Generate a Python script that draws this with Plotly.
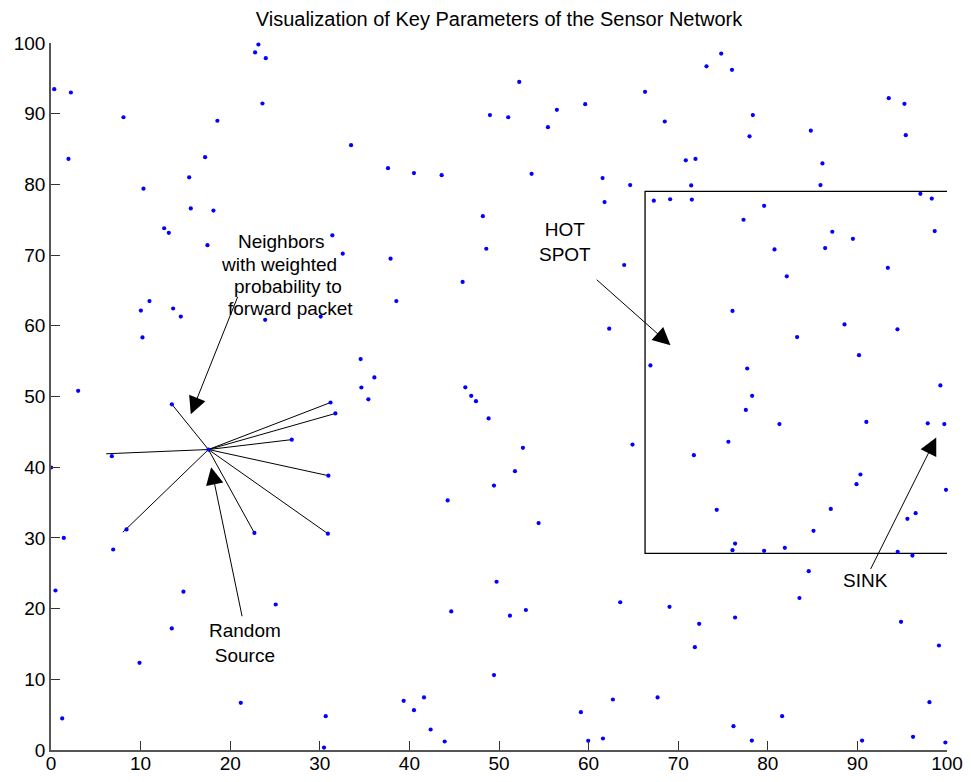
import plotly.graph_objects as go

# ---------------- data ----------------
node_x = [0.36, 2.22, 1.95, 8.09, 10.32, 12.63, 13.15, 15.42, 15.6, 17.2, 18.13, 17.46, 18.57,
          22.78, 23.15, 23.97, 23.6, 52.26, 66.3, 48.99, 51.03, 56.46, 59.62, 55.46, 33.49,
          37.61, 40.51, 43.6, 53.64, 61.56, 64.64, 61.78, 48.2, 48.58, 31.4, 32.56, 37.9, 63.97,
          73.16, 74.8, 76.0, 68.5, 78.33, 77.96, 70.85, 71.93, 71.45, 67.28, 69.1, 71.52, 79.59,
          77.29, 84.8, 86.1, 85.88, 93.5, 95.25, 95.4, 97.03, 98.3, 98.63, 87.2, 89.5, 86.4,
          80.75, 93.4, 82.12,
          3.03, 0.02, 6.79, 10.03, 10.99, 10.21, 13.63, 14.49, 23.9, 30.1, 13.49, 26.87, 17.57,
          31.2, 31.74, 30.96, 30.9, 22.7, 8.43,
          45.94, 38.54, 62.3, 34.56, 36.09, 34.64, 35.42, 46.24, 46.9, 47.43, 48.84, 52.67,
          51.78, 49.44, 44.27, 64.9, 66.9,
          76.06, 88.56, 94.47, 83.27, 90.18, 77.7, 99.26, 78.25, 77.55, 81.3, 91.0, 97.85, 99.7,
          75.6, 71.75, 90.34, 89.9, 99.89, 74.3, 87.03, 96.5, 95.58,
          1.43, 6.94, 0.5, 14.78, 25.08, 13.48, 9.88, 21.18, 1.25, 30.66, 30.47,
          54.42, 49.73, 44.67, 51.22, 53.0, 63.53, 49.44, 39.36, 41.63, 40.51, 42.37, 43.94,
          59.14, 62.71, 59.96, 61.6,
          85.1, 76.35, 76.06, 79.59, 81.9, 94.5, 96.14, 84.57, 83.53, 69.03, 72.34, 76.35,
          71.86, 94.87, 99.1, 67.7, 81.6, 76.17, 98.04, 78.22, 90.52, 96.21, 99.82]
node_y = [93.47, 93.0, 83.6, 89.5, 79.4, 73.8, 73.15, 81.0, 76.6, 83.85, 76.3, 71.4, 89.0,
          98.66, 99.79, 97.85, 91.44, 94.5, 93.1, 89.8, 89.5, 90.55, 91.35, 88.1, 85.55,
          82.3, 81.6, 81.3, 81.5, 80.9, 79.9, 77.5, 75.5, 70.9, 72.8, 70.2, 69.5, 68.6,
          96.7, 98.5, 96.2, 88.9, 89.8, 86.8, 83.4, 83.6, 79.85, 77.7, 77.9, 77.86, 76.97,
          75.0, 87.6, 82.96, 79.9, 92.2, 91.4, 86.96, 78.67, 78.0, 73.4, 73.3, 72.3, 71.0,
          70.8, 68.2, 67.0,
          50.8, 39.96, 41.56, 62.16, 63.5, 58.35, 62.45, 61.3, 60.85, 61.3, 48.9, 43.9, 42.5,
          49.15, 47.6, 38.8, 30.6, 30.7, 31.2,
          66.2, 63.5, 59.6, 55.3, 52.7, 51.27, 49.6, 51.3, 50.1, 49.34, 46.9, 42.74,
          39.44, 37.4, 35.3, 43.2, 54.4,
          62.1, 60.2, 59.5, 58.4, 55.85, 53.96, 51.56, 50.1, 48.1, 46.1, 46.4, 46.2, 46.1,
          43.6, 41.7, 38.97, 37.6, 36.8, 33.97, 34.1, 33.5, 32.7,
          30.0, 28.36, 22.56, 22.4, 20.58, 17.2, 12.33, 6.67, 4.46, 4.78, 0.35,
          32.1, 23.8, 19.6, 19.0, 19.8, 20.9, 10.6, 6.96, 7.43, 5.63, 2.9, 1.2,
          5.35, 7.14, 1.3, 1.63,
          31.0, 29.2, 28.26, 28.17, 28.6, 28.03, 27.5, 25.3, 21.5, 20.25, 17.85, 18.74,
          14.54, 18.13, 14.78, 7.43, 4.78, 3.37, 6.76, 1.34, 1.34, 1.87, 1.06]

source_xy = (17.57, 42.5)
neighbor_x = [13.49, 6.16, 8.02, 22.7, 30.9, 30.96, 26.87, 31.2, 31.74]
neighbor_y = [48.9, 41.9, 30.8, 30.7, 30.6, 38.8, 43.9, 49.15, 47.6]

# hot spot region: x from 66.3 to 100, y from 27.8 to 79
hot_x = [100, 66.3, 66.3, 100]
hot_y = [79.0, 79.0, 27.8, 27.8]

x_ticks = [0, 10, 20, 30, 40, 50, 60, 70, 80, 90, 100]
y_ticks = [0, 10, 20, 30, 40, 50, 60, 70, 80, 90, 100]

title_text = "Visualization of Key Parameters of the Sensor Network"

# labels: (text, x, y)
labels = [
    ("Neighbors", 25.75, 71.9),
    ("with weighted", 25.5, 68.7),
    ("probability to", 26.43, 65.5),
    ("forward packet", 26.77, 62.4),
    ("Random<br>Source", 21.6, 15.2),
    ("HOT<br>SPOT", 57.32, 71.9),
    ("SINK", 90.85, 23.97),
]
# arrows: (tail_x, tail_y, tip_x, tip_y)
arrows = [
    (20.9, 64.3, 15.6, 47.5),
    (21.36, 18.7, 17.87, 40.0),
    (60.74, 66.7, 69.14, 57.26),
    (91.4, 25.4, 98.8, 44.2),
]

FONT = "Liberation Sans, Arial, Helvetica, sans-serif"

fig = go.Figure()

# neighbor links
lx, ly = [], []
for nx, ny in zip(neighbor_x, neighbor_y):
    lx += [source_xy[0], nx, None]
    ly += [source_xy[1], ny, None]
fig.add_trace(go.Scatter(x=lx, y=ly, mode="lines",
                         line=dict(color="black", width=1), hoverinfo="skip",
                         showlegend=False))

# hot spot box
fig.add_trace(go.Scatter(x=hot_x, y=hot_y, mode="lines",
                         line=dict(color="black", width=1.3), hoverinfo="skip",
                         showlegend=False, cliponaxis=False))

# sensor nodes
fig.add_trace(go.Scatter(x=node_x, y=node_y, mode="markers",
                         marker=dict(color="#0000ff", size=4.2, line=dict(width=0)),
                         showlegend=False, cliponaxis=False))

annotations = []
for txt, x, y in labels:
    annotations.append(dict(x=x, y=y, xref="x", yref="y", text=txt, showarrow=False,
                            font=dict(family=FONT, size=19, color="black"),
                            align="center", xanchor="center", yanchor="middle"))
for tx, ty, hx, hy in arrows:
    annotations.append(dict(x=hx, y=hy, xref="x", yref="y", ax=tx, ay=ty,
                            axref="x", ayref="y", text="", showarrow=True,
                            arrowhead=2, arrowsize=3.5, arrowwidth=1,
                            arrowcolor="black", standoff=0, startstandoff=0))

# the page body adds an 8px offset; the figure is sized so the axes land where the
# reference has them (x: 51..947 px, y: 43..750 px in the window)
FIG_W, FIG_H = 963, 774
fig.update_layout(
    width=FIG_W, height=FIG_H,
    margin=dict(l=43, r=24, t=35, b=32, pad=0, autoexpand=False),
    paper_bgcolor="white", plot_bgcolor="white",
    font=dict(family=FONT, size=18, color="black"),
    title=dict(text=title_text, x=0.5, xref="paper", y=1 - 11 / FIG_H, yref="container",
               xanchor="center", yanchor="middle",
               font=dict(family=FONT, size=20, color="black")),
    annotations=annotations,
)
fig.update_xaxes(range=[0, 100], tickmode="array", tickvals=x_ticks,
                 ticktext=[str(v) for v in x_ticks], automargin=False,
                 showgrid=False, zeroline=False, showline=True, linecolor="#555",
                 linewidth=1.5, ticks="inside", ticklen=9, tickcolor="#333",
                 ticklabelstandoff=-5,
                 tickfont=dict(family=FONT, size=19, color="black"), mirror=False)
fig.update_yaxes(range=[0, 100], tickmode="array", tickvals=y_ticks,
                 ticktext=[str(v) for v in y_ticks], automargin=False,
                 showgrid=False, zeroline=False, showline=True, linecolor="#555",
                 linewidth=1.5, ticks="inside", ticklen=9, tickcolor="#333",
                 tickfont=dict(family=FONT, size=19, color="black"), mirror=False)

fig.write_html("out.html")
